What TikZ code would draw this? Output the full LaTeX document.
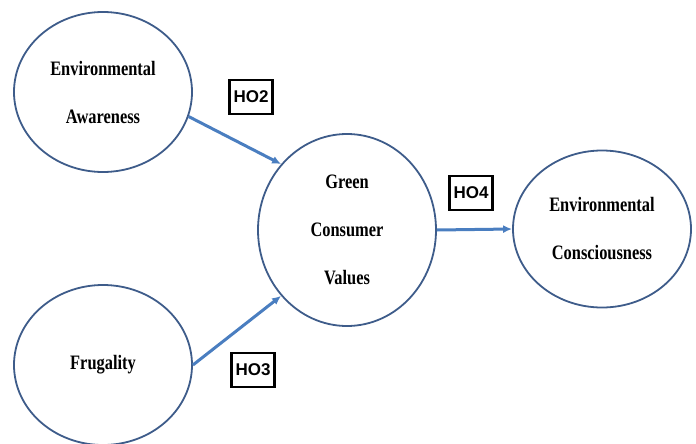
\documentclass[tikz,border=0pt]{standalone}
\usepackage{fontspec}
\newfontfamily\nodefont[FakeStretch=0.8]{Liberation Serif}
\newfontfamily\tagfont{Liberation Sans}
\usetikzlibrary{shapes.geometric,arrows.meta}
\definecolor{rimblue}{RGB}{62,92,138}
\definecolor{pathblue}{RGB}{74,126,192}
\begin{document}
\begin{tikzpicture}[x=1pt, y=-1pt,
    construct/.style={ellipse, draw=rimblue, line width=1.8pt, inner sep=0pt,
      minimum width=178pt, minimum height=160pt, align=center,
      font=\nodefont\bfseries\fontsize{20.5}{48}\selectfont},
    hyp/.style={draw=black, line width=2.2pt, inner sep=0pt, minimum width=43pt,
      minimum height=34pt, font=\tagfont\bfseries\fontsize{17}{17}\selectfont},
    link/.style={-{Latex[length=9pt,width=8pt]}, line width=3pt, draw=pathblue}]
      \useasboundingbox (0,0) rectangle (696,444);

      \node [construct] (ea)  at (103,92)  {Environmental\\Awareness};
      \node [construct] (fr)  at (103,365) {Frugality};
      \node [construct, minimum height=192pt] (gcv) at (347,230) {Green\\Consumer\\Values};
      \node [construct, minimum height=157pt] (ec)  at (602,229) {Environmental\\Consciousness};

      \node [hyp] (ho2) at (251,97)  {HO2};
      \node [hyp] (ho3) at (253,370) {HO3};
      \node [hyp] (ho4) at (471,193) {HO4};

      \draw [link] (ea.-16)   to (gcv.135);
      \draw [link] (fr.east)  to (gcv.225);
      \draw [link] (gcv.east) to (ec.west);
\end{tikzpicture}
\end{document}
